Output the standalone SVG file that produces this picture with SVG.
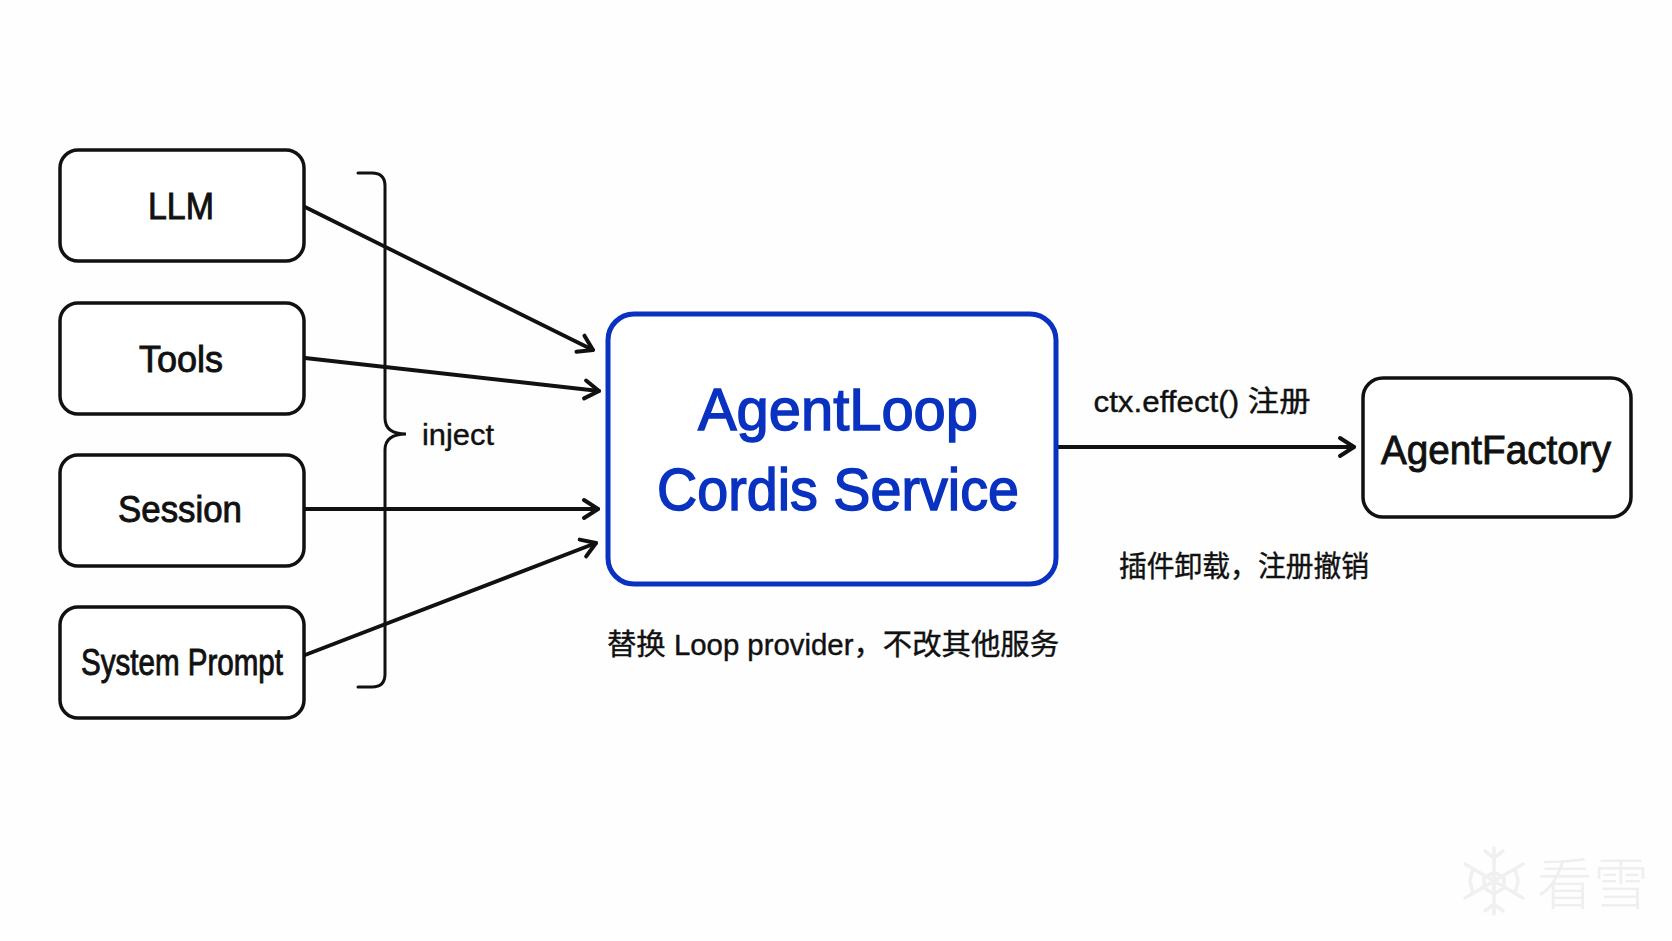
<svg xmlns="http://www.w3.org/2000/svg" width="1672" height="941" viewBox="0 0 1672 941">
<defs>
<marker id="arr" viewBox="0 0 24 24" refX="20" refY="12" markerWidth="24" markerHeight="24" markerUnits="userSpaceOnUse" orient="auto"><path d="M6 3 L20 12 L6 21" fill="none" stroke="#111" stroke-width="4" stroke-linecap="round" stroke-linejoin="round"/></marker>
</defs>
<style>
text{font-family:"Liberation Sans","Noto Sans CJK SC",sans-serif;fill:#111;text-anchor:middle}
.b{fill:#fff;stroke:#111;stroke-width:3.5}
.c{fill:none;stroke:#111;stroke-width:3.8;stroke-linecap:round;marker-end:url(#arr)}
.n{font-size:36px;stroke:#111;stroke-width:.9}
.f{font-size:41px;stroke:#111;stroke-width:.9}
.l{font-size:29px;stroke:#111;stroke-width:.4}
.m{font-size:60px;fill:#0a32c0;stroke:#0a32c0;stroke-width:1.5}
.w{fill:none;stroke:#f0f0f0;stroke-width:3.5;stroke-linecap:round}
</style>
<rect width="1672" height="941" fill="#fefefe"/>
<g id="connectors">
<path class="c" d="M305 207 L593 350"/>
<path class="c" d="M305 358 L599 391"/>
<path class="c" d="M305 509 L598 509"/>
<path class="c" d="M305 655 L596 543"/>
<path class="c" d="M1057 447 L1354 447"/>
</g>
<g id="brace"><path d="M358 173 H372 Q385 173 385 186 V418 Q385 434 406 434 Q385 434 385 450 V674 Q385 687 372 687 H358" fill="none" stroke="#111" stroke-width="3" stroke-linecap="round"/>
<text class="l" x="458" y="445" textLength="72" lengthAdjust="spacingAndGlyphs">inject</text></g>
<g id="llm"><rect class="b" x="60" y="150" width="244" height="111" rx="18"/><text class="n" x="181" y="219" textLength="66" lengthAdjust="spacingAndGlyphs">LLM</text></g>
<g id="tools"><rect class="b" x="60" y="303" width="244" height="111" rx="18"/><text class="n" x="181" y="372" textLength="84" lengthAdjust="spacingAndGlyphs">Tools</text></g>
<g id="session"><rect class="b" x="60" y="455" width="244" height="111" rx="18"/><text class="n" x="180" y="522" textLength="124" lengthAdjust="spacingAndGlyphs">Session</text></g>
<g id="system-prompt"><rect class="b" x="60" y="607" width="244" height="111" rx="18"/><text class="n" x="182" y="675" textLength="202" lengthAdjust="spacingAndGlyphs">System Prompt</text></g>
<g id="agentloop"><rect x="608" y="314" width="448" height="270" rx="26" fill="#fff" stroke="#0a32c0" stroke-width="5"/>
<text class="m" x="838" y="430" textLength="280" lengthAdjust="spacingAndGlyphs">AgentLoop</text>
<text class="m" x="838" y="510" textLength="362" lengthAdjust="spacingAndGlyphs">Cordis Service</text></g>
<g id="agentfactory"><rect class="b" x="1363" y="378" width="268" height="139" rx="20"/><text class="f" x="1496" y="464" textLength="230" lengthAdjust="spacingAndGlyphs">AgentFactory</text></g>
<g id="labels">
<text class="l" x="1202" y="412" textLength="217" lengthAdjust="spacingAndGlyphs">ctx.effect() 注册</text>
<text class="l" x="1244" y="577" textLength="250" lengthAdjust="spacingAndGlyphs">插件卸载，注册撤销</text>
<text class="l" x="833" y="655" textLength="452" lengthAdjust="spacingAndGlyphs">替换 Loop provider，不改其他服务</text>
</g>
<g id="watermark">
<path class="w" d="M1494 848 V914 M1465 864 L1523 898 M1523 864 L1465 898 M1494 858 L1485 851 M1494 858 L1503 851 M1494 904 L1485 911 M1494 904 L1503 911 M1473 869 L1470 880 M1515 893 L1518 882 M1515 869 L1518 880 M1473 893 L1470 882 M1494 872 L1504 878 V888 L1494 894 L1484 888 V878 Z"/>
<text x="1593" y="904" font-size="56" style="fill:#efefef;font-weight:300">看雪</text>
</g>
</svg>
